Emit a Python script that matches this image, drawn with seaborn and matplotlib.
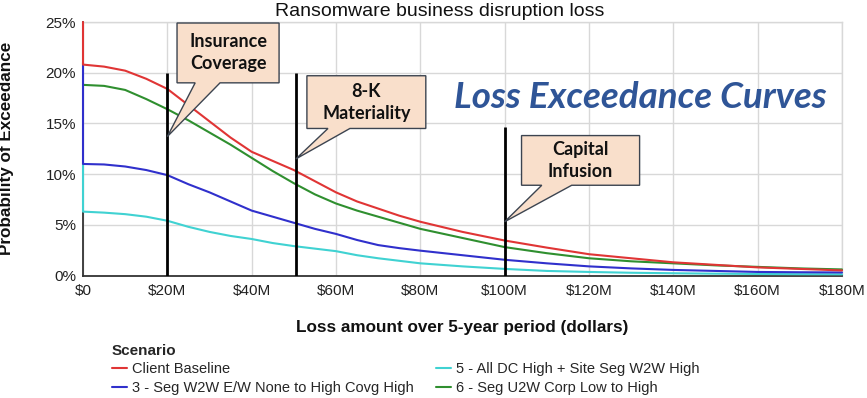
import numpy as np
import pandas as pd
import seaborn as sns
import matplotlib
matplotlib.use("Agg")
import matplotlib.pyplot as plt
from matplotlib.patches import Polygon
from matplotlib.ticker import FuncFormatter, MultipleLocator

# ---------------- data ----------------
scenarios = [
    "Client Baseline",
    "3 - Seg W2W E/W None to High Covg High",
    "5 - All DC High + Site Seg W2W High",
    "6 - Seg U2W Corp Low to High",
]
colors = ["#e03535", "#3030cc", "#40d2d2", "#2f8f2f"]

loss_musd = [0, 5, 10, 15, 20, 25, 30, 35, 40, 45, 50, 55, 60, 65, 70, 75, 80,
             90, 100, 110, 120, 130, 140, 150, 160, 170, 180]

# probability of exceedance (%) at $0 before the first step
start_pct = [25.0, 21.0, 11.0, 18.8]

client_baseline = [20.8, 20.6, 20.2, 19.4, 18.4, 16.8, 15.2, 13.6, 12.2, 11.3, 10.4,
                   9.3, 8.2, 7.3, 6.6, 5.9, 5.3, 4.3, 3.45, 2.75, 2.1, 1.7, 1.3,
                   1.05, 0.8, 0.65, 0.5]
seg_w2w = [11.0, 10.95, 10.75, 10.4, 9.9, 9.0, 8.2, 7.3, 6.4, 5.8, 5.2, 4.6, 4.1,
           3.5, 3.0, 2.7, 2.45, 2.0, 1.55, 1.2, 0.9, 0.7, 0.55, 0.45, 0.35, 0.32, 0.3]
all_dc = [6.3, 6.2, 6.05, 5.8, 5.4, 4.8, 4.3, 3.9, 3.6, 3.2, 2.9, 2.65, 2.4, 2.0,
          1.7, 1.45, 1.2, 0.9, 0.65, 0.45, 0.35, 0.27, 0.22, 0.18, 0.15, 0.13, 0.12]
seg_u2w = [18.8, 18.7, 18.3, 17.4, 16.4, 15.3, 14.1, 12.9, 11.6, 10.3, 9.1, 8.0,
           7.1, 6.4, 5.8, 5.2, 4.6, 3.7, 2.8, 2.2, 1.7, 1.4, 1.2, 1.0, 0.85, 0.7, 0.6]
series = [client_baseline, seg_w2w, all_dc, seg_u2w]

threshold_labels = ["Insurance\nCoverage", "8-K\nMateriality", "Capital\nInfusion"]
threshold_musd = [20, 50.5, 100]
threshold_top_pct = [20, 20, 14.6]
threshold_tip_pct = [13.7, 11.5, 5.3]

# ---------------- frame ----------------
rows = []
for name, start, vals in zip(scenarios, start_pct, series):
    xs = [loss_musd[0]] + loss_musd
    ys = [start] + vals
    for x, y in zip(xs, ys):
        rows.append({"Scenario": name, "loss": x, "pct": y})
df = pd.DataFrame(rows)

# ---------------- figure ----------------
sns.set_style("white")
plt.rcParams["font.family"] = ["Liberation Sans", "DejaVu Sans"]

fig = plt.figure(figsize=(8.67, 3.98), dpi=100)
ax = fig.add_axes([83 / 867, 1 - 275.5 / 398, (842 - 83) / 867, (275.5 - 22) / 398])

for name, col in zip(scenarios, colors):
    sub = df[df["Scenario"] == name]
    sns.lineplot(data=sub, x="loss", y="pct", color=col, estimator=None,
                 sort=False, linewidth=1.5, ax=ax, label=name)
zorders = {0: 3.4, 1: 3.3, 2: 3.2, 3: 3.1}
for i, ln in enumerate(ax.get_lines()):
    ln.set_zorder(zorders.get(i, 3))
    ln.set_clip_on(False)

ax.set_xlim(0, 180)
ax.set_ylim(0, 25)
ax.xaxis.set_major_locator(MultipleLocator(20))
ax.yaxis.set_major_locator(MultipleLocator(5))
ax.xaxis.set_major_formatter(FuncFormatter(lambda v, p: "$0" if v == 0 else f"${int(v)}M"))
ax.yaxis.set_major_formatter(FuncFormatter(lambda v, p: f"{int(v)}%"))
ax.grid(True, color="#d8d8d8", linewidth=1.0)
ax.set_axisbelow(True)
for s in ["top", "right"]:
    ax.spines[s].set_color("#d8d8d8")
    ax.spines[s].set_linewidth(1.0)
for s in ["left", "bottom"]:
    ax.spines[s].set_color("#333333")
    ax.spines[s].set_linewidth(1.3)
ax.tick_params(axis="both", length=0, labelsize=11, colors="#222222")
ax.tick_params(axis="x", pad=6)
ax.tick_params(axis="y", pad=5)

ax.set_xlabel("Loss amount over 5-year period (dollars)", fontsize=12.3,
              fontweight="bold", color="#111111")
ax.set_ylabel("Probability of Exceedance", fontsize=12.3, fontweight="bold",
              color="#111111")
ax.xaxis.set_label_coords(0.5, (275.5 - 320) / 253.5)
ax.yaxis.set_label_coords((14 - 83) / 759, 0.5)

fig.text(440 / 867, 1 - 12 / 398, "Ransomware business disruption loss",
         ha="center", va="center", fontsize=14, color="#111111")

# threshold lines
ax.vlines(threshold_musd, 0, threshold_top_pct, color="black", linewidth=2, zorder=5)

# callouts (box extents in data units)
boxes = [
    dict(x0=22.3, x1=46.5, y0=19.0, y1=24.9, b0=26.6, b1=32.5),
    dict(x0=53.1, x1=81.3, y0=14.5, y1=19.7, b0=58.1, b1=63.3),
    dict(x0=104.0, x1=132.0, y0=8.9, y1=13.8, b0=108.8, b1=115.9),
]
for lab, tx, tp, b in zip(threshold_labels, threshold_musd, threshold_tip_pct, boxes):
    verts = [(b["x0"], b["y1"]), (b["x1"], b["y1"]), (b["x1"], b["y0"]),
             (b["b1"], b["y0"]), (tx, tp), (b["b0"], b["y0"]), (b["x0"], b["y0"])]
    poly = Polygon(verts, closed=True, facecolor="#f9dfcb", edgecolor="#3c4450",
                   linewidth=1.0, zorder=6, clip_on=False)
    ax.add_patch(poly)
    ax.text((b["x0"] + b["x1"]) / 2, (b["y0"] + b["y1"]) / 2, lab, ha="center",
            va="center", fontsize=13, fontweight="bold", family="Lato",
            color="#111111", zorder=7, linespacing=1.35)

fig.text(640 / 867, 1 - 97 / 398, "Loss Exceedance Curves", ha="center",
         va="center", fontsize=26.5, fontweight="bold", fontstyle="italic",
         family="Lato", color="#2f5597")

# legend
handles, labels = ax.get_legend_handles_labels()
if ax.get_legend():
    ax.get_legend().remove()
leg = fig.legend(handles, labels, ncol=2, loc="upper left",
                 bbox_to_anchor=(112 / 867, 1 - 344 / 398), frameon=False,
                 title="Scenario", fontsize=10.5, handlelength=1.0,
                 handletextpad=0.4, columnspacing=1.5, labelspacing=0.3,
                 borderaxespad=0, borderpad=0,
                 title_fontproperties={"weight": "bold", "size": 11},
                 alignment="left")

fig.savefig("out.png", dpi=100)
